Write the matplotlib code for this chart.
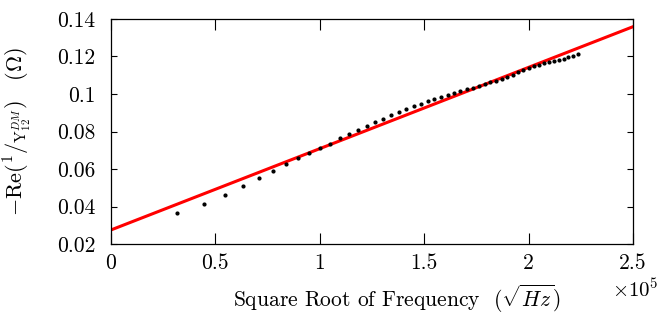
import matplotlib
matplotlib.use("Agg")
import matplotlib.pyplot as plt
import numpy as np

plt.rcParams['font.family'] = 'cmr10'
plt.rcParams['mathtext.fontset'] = 'cm'
plt.rcParams['axes.formatter.use_mathtext'] = True

# measured frequencies (GHz) and the real part of 1/Y12 (ohm)
freq_ghz = [1, 2, 3, 4, 5, 6, 7, 8, 9, 10,
            11, 12, 13, 14, 15, 16, 17, 18, 19, 20,
            21, 22, 23, 24, 25, 26, 27, 28, 29, 30,
            31, 32, 33, 34, 35, 36, 37, 38, 39, 40,
            41, 42, 43, 44, 45, 46, 47, 48, 49, 50]
re_inv_y12 = [0.0367, 0.0415, 0.0463, 0.0508, 0.0550, 0.0589, 0.0625, 0.0657, 0.0685, 0.0714,
              0.0736, 0.0763, 0.0786, 0.0807, 0.0828, 0.0849, 0.0868, 0.0886, 0.0904, 0.0920,
              0.0936, 0.0948, 0.0963, 0.0973, 0.0986, 0.0995, 0.1005, 0.1016, 0.1025, 0.1034,
              0.1043, 0.1052, 0.1062, 0.1071, 0.1082, 0.1092, 0.1103, 0.1116, 0.1128, 0.1139,
              0.1148, 0.1156, 0.1164, 0.1171, 0.1176, 0.1183, 0.1188, 0.1196, 0.1203, 0.1215]

# linear fit line end points
fit_x = [0.0, 2.5e5]
fit_y = [0.0275, 0.1359]

x_ticks = [0, 0.5e5, 1e5, 1.5e5, 2e5, 2.5e5]
x_ticklabels = ['0', '0.5', '1', '1.5', '2', '2.5']
y_ticks = [0.02, 0.04, 0.06, 0.08, 0.1, 0.12, 0.14]
y_ticklabels = ['0.02', '0.04', '0.06', '0.08', '0.1', '0.12', '0.14']

sqrt_f = np.sqrt(np.array(freq_ghz) * 1e9)

fig = plt.figure(figsize=(6.63, 3.14), dpi=100)
ax = fig.add_axes([0.1674, 0.2229, 0.7874, 0.7166])

ax.plot(fit_x, fit_y, color='red', lw=2.2, zorder=2)
ax.plot(sqrt_f, re_inv_y12, 'o', color='black', ms=2.0, zorder=3)

ax.set_xlim(0, 2.5e5)
ax.set_ylim(0.02, 0.14)
ax.set_xticks(x_ticks)
ax.set_xticklabels(x_ticklabels)
ax.set_yticks(y_ticks)
ax.set_yticklabels(y_ticklabels)
ax.text(1.005, -0.152, r'$\times10^5$', transform=ax.transAxes, fontsize=15,
        ha='center', va='top')

ax.tick_params(axis='both', direction='in', top=True, right=True, labelsize=15.5, width=0.8)
ax.tick_params(axis='x', length=8, pad=7)
ax.tick_params(axis='y', length=4, pad=11)
for s in ax.spines.values():
    s.set_linewidth(0.9)

ax.set_xlabel(r'Square Root of Frequency  $(\sqrt{Hz})$', fontsize=15.5)
ax.xaxis.set_label_coords(0.548, -0.172)
ax.set_ylabel(r'$-\mathrm{Re}(^1/_{\mathrm{Y}_{12}^{DM}})\ \ \ (\Omega)$', fontsize=16)
ax.yaxis.set_label_coords(-0.15, 0.5)

fig.savefig('out.png', dpi=100)
